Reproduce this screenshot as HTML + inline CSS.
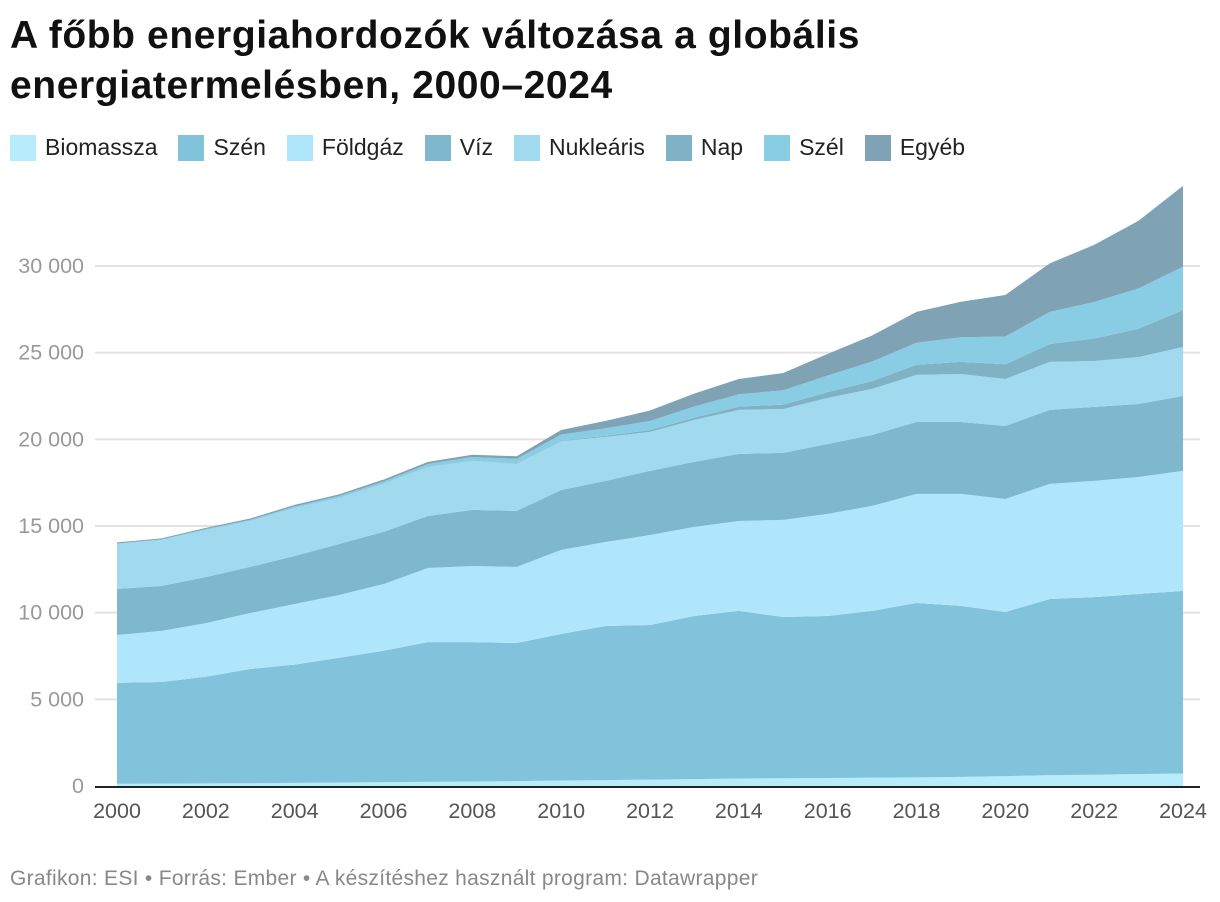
<!DOCTYPE html>
<html><head><meta charset="utf-8">
<style>
body{margin:0;background:#fff;width:1220px;height:902px;overflow:hidden;font-family:"Liberation Sans",sans-serif;}
h1{position:absolute;left:10px;top:11px;margin:0;font-size:39px;line-height:50px;font-weight:bold;color:#111;letter-spacing:0.6px}
#legend{position:absolute;left:10px;top:134px;display:flex;font-size:23px;color:#222}
.li{display:flex;align-items:center;margin-right:21px}
.sw{width:26px;height:26px;margin-right:9px}
#footer{position:absolute;left:10px;top:867px;font-size:21px;color:#888;letter-spacing:0.3px}
svg{position:absolute;left:0;top:0}
</style></head><body>
<h1>A főbb energiahordozók változása a globális<br>energiatermelésben, 2000–2024</h1>
<div id="legend"></div>
<svg id="chart" width="1220" height="902"></svg>
<div id="footer">Grafikon: ESI • Forrás: Ember • A készítéshez használt program: Datawrapper</div>
<script>
const years=[2000,2001,2002,2003,2004,2005,2006,2007,2008,2009,2010,2011,2012,2013,2014,2015,2016,2017,2018,2019,2020,2021,2022,2023,2024];
const seriesNames=["Biomassza","Szén","Földgáz","Víz","Nukleáris","Nap","Szél","Egyéb"];
const biomassza=[130,140,150,160,180,200,220,240,260,280,320,340,370,400,430,450,460,480,500,530,570,630,650,690,720];
const szen=[5820,5860,6150,6590,6820,7200,7580,8060,8040,7970,8450,8890,8920,9410,9670,9300,9350,9620,10060,9860,9470,10160,10250,10390,10530];
const foldgaz=[2760,2950,3100,3230,3500,3620,3850,4280,4390,4390,4850,4850,5190,5140,5190,5600,5890,6060,6290,6460,6520,6640,6700,6750,6930];
const viz=[2660,2590,2660,2660,2770,2940,3010,3000,3240,3230,3460,3520,3700,3750,3870,3870,4030,4090,4150,4150,4210,4270,4270,4210,4320];
const nuklearis=[2590,2650,2710,2650,2770,2660,2770,2820,2820,2710,2820,2540,2250,2420,2540,2530,2660,2660,2720,2770,2710,2770,2650,2710,2830];
const nap=[1,1,2,2,3,4,6,8,12,20,32,63,100,135,190,250,330,450,580,700,850,1030,1300,1630,2130];
const szel=[31,38,52,63,85,104,133,170,220,276,346,440,530,640,710,830,960,1130,1270,1420,1600,1850,2100,2330,2500];
const egyeb=[60,60,70,80,90,100,110,120,130,150,260,420,600,750,880,1000,1250,1500,1780,2050,2400,2800,3300,3900,4660];
const yTicks=[0,5000,10000,15000,20000,25000,30000];
const yTickLabels=["0","5 000","10 000","15 000","20 000","25 000","30 000"];
const xTicks=[2000,2002,2004,2006,2008,2010,2012,2014,2016,2018,2020,2022,2024];

const series=[biomassza,szen,foldgaz,viz,nuklearis,nap,szel,egyeb];
const colors=["#b6ecfb","#80c3da","#b0e6fc","#7fb8cc","#a1d9ef","#7fb2c5","#89cde4","#7fa2b5"];
const X=y=>117+(y-2000)*(1183-117)/24;
const Y=v=>786-v*(520/30000);
const svg=document.getElementById('chart');
const NS="http://www.w3.org/2000/svg";
function mk(t,a){const e=document.createElementNS(NS,t);for(const k in a)e.setAttribute(k,a[k]);svg.appendChild(e);return e;}
yTicks.forEach((v,i)=>{
  if(v>0){const g=mk('line',{x1:95,x2:1200,y1:Y(v),y2:Y(v),stroke:'#e2e2e2','stroke-width':2});
  
  }
  const t=mk('text',{x:84,y:Y(v)+7,'text-anchor':'end','font-size':21.5,fill:'#999','font-family':'Liberation Sans'});
  t.textContent=yTickLabels[i];
  
  
});
let base=years.map(()=>0);
series.forEach((s,si)=>{
  const top=base.map((b,i)=>b+s[i]);
  let d='M'+years.map((y,i)=>X(y)+','+Y(top[i])).join('L');
  for(let i=years.length-1;i>=0;i--)d+='L'+X(years[i])+','+Y(base[i]);
  d+='Z';
  const p=mk('path',{d:d,fill:colors[si]});
  
  
  base=top;
});
const ax=mk('line',{x1:95,x2:1200,y1:787,y2:787,stroke:'#222','stroke-width':2});


xTicks.forEach(y=>{
  const t=mk('text',{x:X(y),y:818,'text-anchor':'middle','font-size':21.5,fill:'#555','font-family':'Liberation Sans'});
  t.textContent=y;
  
  
});
const lg=document.getElementById('legend');
seriesNames.forEach((n,i)=>{
  const li=document.createElement('div');li.className='li';
  
  
  li.innerHTML='<div class="sw" style="background:'+colors[i]+'"></div>'+n;
  lg.appendChild(li);
});
</script>
</body></html>
